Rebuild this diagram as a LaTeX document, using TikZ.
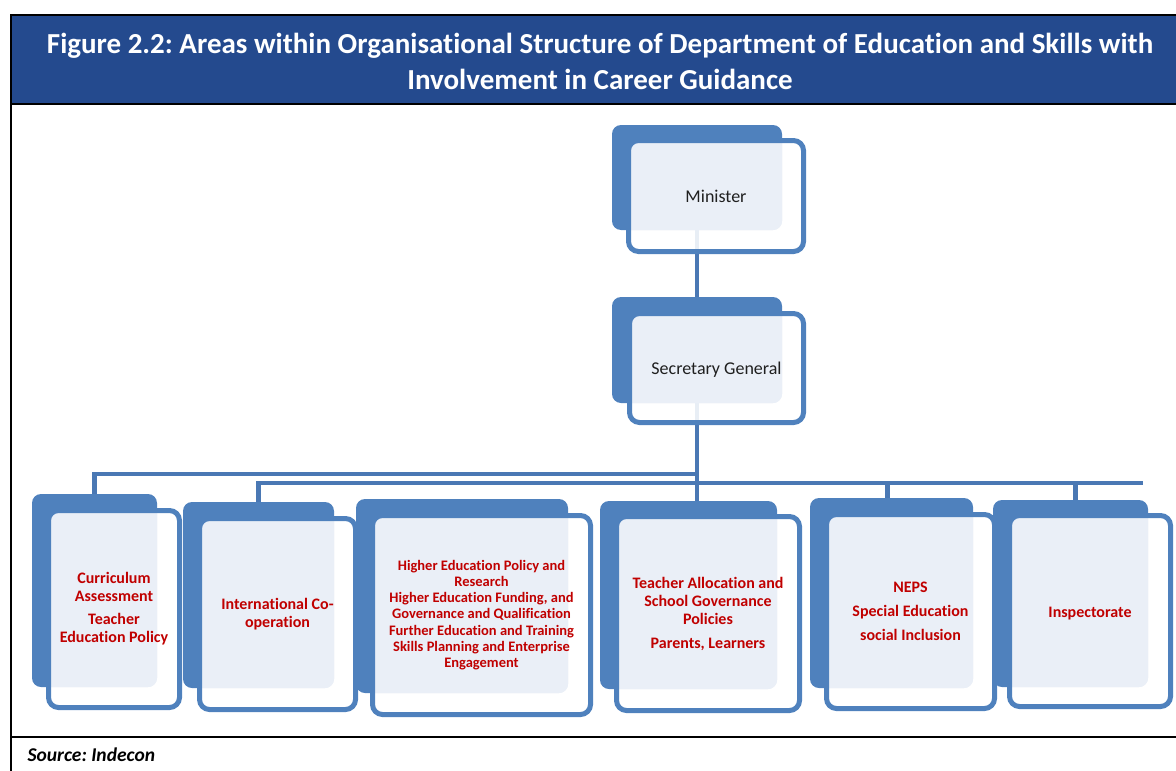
\documentclass[tikz,border=0pt]{standalone}
\usepackage{fontspec}
\setmainfont{Carlito}[Ligatures=NoCommon]
\frenchspacing
\pgfdeclarelayer{bg}
\pgfsetlayers{bg,main}

\definecolor{orgblue}{HTML}{4F81BD}
\definecolor{orgpale}{HTML}{EAEFF7}
\definecolor{linkblue}{HTML}{4A78B4}
\definecolor{bandblue}{HTML}{244A8E}
\definecolor{areared}{HTML}{C00000}

\tikzset{
  backbox/.style={fill=orgblue, rounded corners=9pt, inner sep=0pt, outer sep=0pt},
  frontslot/.style={inner sep=0pt, outer sep=0pt},
  link/.style={draw=linkblue, line width=4.5pt},
  rule/.style={draw=black, line width=2pt},
  chief/.style={font=\fontsize{18}{22}\selectfont, text=black!88},
  area/.style={font=\bfseries\fontsize{16}{18}\selectfont, text=areared, align=center},
  areasmall/.style={font=\bfseries\fontsize{14.5}{16.2}\selectfont, text=areared, align=center},
}

% #1 name, #2-#5 back panel (x1,y1,x2,y2), #6-#9 outlined front panel (outer edges)
\newcommand{\orgbox}[9]{%
  \node[backbox, minimum width={#4-#2}, minimum height={#5-#3}] (#1B) at ({(#2+#4)/2},{(#3+#5)/2}) {};
  \node[frontslot, minimum width={#8-#6-5}, minimum height={#9-#7-5}] (#1F) at ({(#6+#8)/2},{(#7+#9)/2}) {};
  \fill[white, fill opacity=.88, rounded corners=10pt] (#1F.south west) rectangle (#1F.north east);
  \begin{scope}
    \clip[rounded corners=10pt] (#1F.south west) rectangle (#1F.north east);
    \fill[orgpale, rounded corners=9pt] (#1B.south west) rectangle (#1B.north east);
  \end{scope}
  \draw[orgblue, line width=5pt, rounded corners=10pt] (#1F.south west) rectangle (#1F.north east);
}

\begin{document}
\begin{tikzpicture}[x=1pt, y=-1pt]
  \useasboundingbox (0,0) rectangle (1176,771);
  \clip (0,0) rectangle (1176,771);

  % heading band and table frame
  \fill[bandblue] (11,15) rectangle (1195,104);
  \draw[rule] (1195,15) -- (11,15) -- (11,780);
  \draw[rule] (11,104) -- (1195,104);
  \draw[rule] (11,737) -- (1195,737);
  \node[text=white, font=\bfseries\fontsize{29}{36}\selectfont, align=center] (title) at (600,61)
    {Figure 2.2: Areas within Organisational Structure of Department of Education and Skills with\\Involvement in Career Guidance};
  \node[anchor=west, font=\bfseries\itshape\fontsize{19.5}{22}\selectfont] (source) at (24,755) {Source: Indecon};

  % top of the hierarchy
  \orgbox{min}{612}{125}{782}{230}{626}{138}{806}{254}
  \node[chief] (minT) at (minF) {Minister};
  \orgbox{sg}{612}{297}{782}{403}{627}{311}{806}{425}
  \node[chief] (sgT) at ([yshift=-2pt]sgF) {Secretary General};

  % areas with involvement in career guidance
  \orgbox{cur}{32}{494}{157}{687}{46}{508}{182}{710}
  \node[area] (curT) at (curF) {Curriculum\\Assessment\\[5pt]Teacher\\Education Policy};
  \orgbox{int}{183}{502}{334}{688}{197}{516}{358}{712}
  \node[area] (intT) at (intF) {International Co-\\operation};
  \orgbox{hed}{356}{499}{568}{693}{370}{513}{593}{717}
  \node[areasmall] (hedT) at (hedF) {Higher Education Policy and\\Research\\Higher Education Funding, and\\Governance and Qualification\\Further Education and Training\\Skills Planning and Enterprise\\Engagement};
  \orgbox{ta}{600}{501}{777}{689}{614}{514}{802}{713}
  \node[area] (taT) at (taF) {Teacher Allocation and\\School Governance\\Policies\\[6pt]Parents, Learners};
  \orgbox{nep}{810}{498}{973}{688}{824}{512}{997}{711}
  \node[area] (nepT) at (nepF) {NEPS\\[6pt]Special Education\\[6pt]social Inclusion};
  \orgbox{ins}{993}{500}{1148}{687}{1007}{513}{1173}{709}
  \node[area] (insT) at ([yshift=-3pt]insF) {Inspectorate};

  % reporting lines
  \coordinate (busA) at (697,474);
  \coordinate (busB) at (1143,483);
  \begin{pgfonlayer}{bg}
    \draw[link] (minB.south) -- (sgB.north);
    \draw[link] (sgB.south) -- (sgB.south |- taB.north);
    \draw[link] (curB.north) |- (busA);
    \draw[link] (intB.north) |- (busB);
    \draw[link] ([xshift=-4pt]nepB.north) -- ([xshift=-4pt]nepB.north |- busB);
    \draw[link] ([xshift=5pt]insB.north) -- ([xshift=5pt]insB.north |- busB);
  \end{pgfonlayer}
\end{tikzpicture}
\end{document}
